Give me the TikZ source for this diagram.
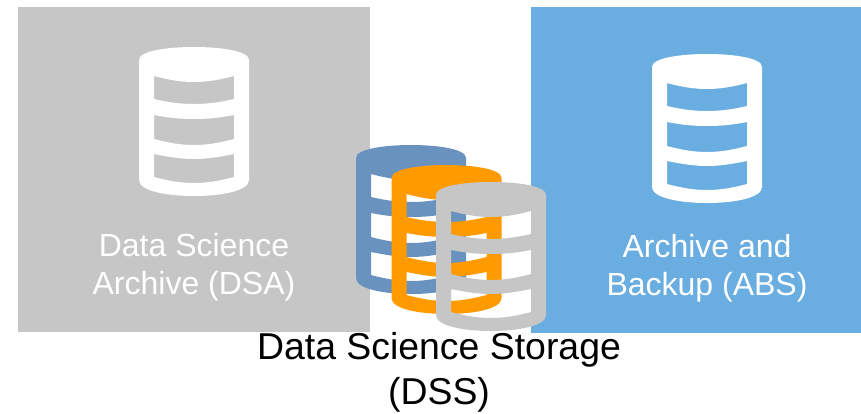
\documentclass[tikz,border=0pt]{standalone}
\usepackage{fontspec}
\setmainfont{Liberation Sans}
\definecolor{panelgrey}{HTML}{C6C6C6}
\definecolor{panelblue}{HTML}{6AADE0}
\definecolor{stackblue}{HTML}{6A92BE}
\definecolor{stackorange}{HTML}{FF9A00}
\tikzset{
  panel/.style={fill=#1,draw=none},
  lbl/.style={align=center,font=\fontsize{32}{38}\selectfont,text=white,inner sep=0pt},
  caption/.style={align=center,font=\fontsize{37.4}{45}\selectfont,text=black,inner sep=0pt},
  dbicon/.pic={
    \fill[even odd rule,pic actions]
      (0,13) .. controls (0,4) and (28,0) .. (55,0) .. controls (82,0) and (110,4) .. (110,13)
      -- (110,133) .. controls (110,144) and (82,149) .. (55,149) .. controls (28,149) and (0,144) .. (0,133) -- cycle
      (15,29) .. controls (30,33) and (42,35) .. (55,35) .. controls (68,35) and (80,33) .. (95,29)
      -- (95,52) .. controls (80,55.5) and (68,57) .. (55,57) .. controls (42,57) and (30,55.5) .. (15,52) -- cycle
      (15,68) .. controls (30,71) and (42,72) .. (55,72) .. controls (68,72) and (80,71) .. (95,68)
      -- (95,92) .. controls (80,96) and (68,98) .. (55,98) .. controls (42,98) and (30,96) .. (15,92) -- cycle
      (15,107) .. controls (30,110) and (42,112) .. (55,112) .. controls (68,112) and (80,110) .. (95,107)
      -- (95,130) .. controls (80,134) and (68,136) .. (55,136) .. controls (42,136) and (30,134) .. (15,130) -- cycle;
  }
}
\begin{document}
\begin{tikzpicture}[x=1pt,y=-1pt]
\useasboundingbox (0,0) rectangle (861,413);
\fill[panel=panelgrey] (18,7) rectangle (370,332);
\fill[panel=panelblue] (531,7) rectangle (861,333);
\pic[fill=white] at (139,47) {dbicon};
\pic[fill=white] at (652,54) {dbicon};
\pic[fill=stackblue] at (356,145) {dbicon};
\pic[fill=stackorange] at (391.5,165) {dbicon};
\pic[fill=panelgrey] at (436,182) {dbicon};
\node[lbl] (dsa) at (194,267.5) {Data Science\\Archive (DSA)};
\node[lbl] (abs) at (707,268.5) {Archive and\\Backup (ABS)};
\node[caption] (dss) at (439,372.5) {Data Science Storage\\(DSS)};
\end{tikzpicture}
\end{document}
